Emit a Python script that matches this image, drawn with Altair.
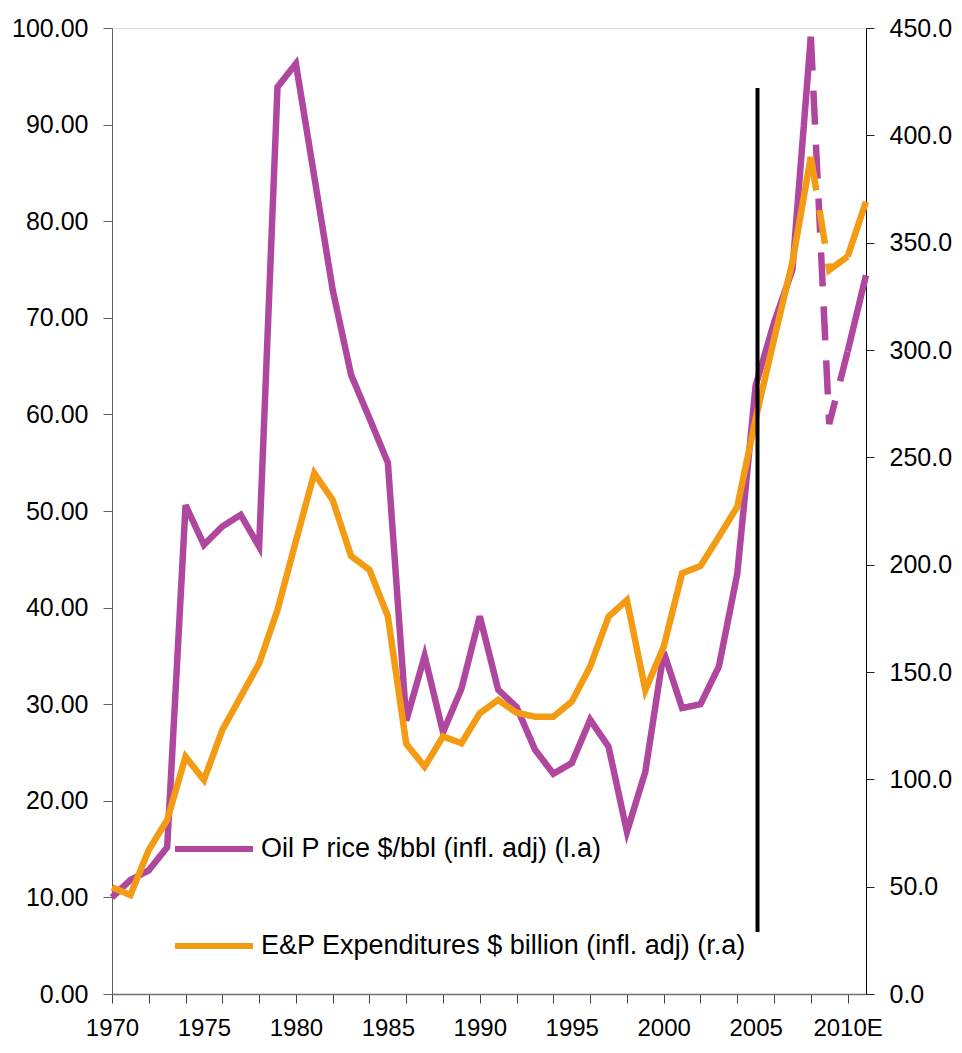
import altair as alt
import pandas as pd

# ---------------- data ----------------
years = list(range(1970, 2012))
oil_price = [10.0, 11.8, 12.8, 15.2, 50.6, 46.5, 48.4, 49.6, 46.3, 93.9,
             96.3, 84.6, 72.9, 64.1, 59.6, 55.0, 28.3, 35.0, 27.1, 31.6,
             39.1, 31.5, 29.7, 25.3, 22.8, 23.9, 28.4, 25.6, 16.8, 23.0,
             35.4, 29.6, 30.0, 33.9, 43.5, 63.0, 69.5, 75.0, 99.1, 59.0,
             66.5, 74.4]
ep_spend = [49.7, 46.1, 67.1, 81.1, 110.5, 99.7, 123.0, 138.5, 154.0, 178.9,
            211.0, 242.6, 230.1, 204.0, 197.6, 176.0, 116.5, 105.9, 120.0, 116.8,
            130.8, 137.0, 131.0, 129.2, 129.2, 136.2, 152.5, 175.8, 183.5, 141.6,
            161.8, 196.0, 199.4, 213.0, 227.0, 268.0, 305.0, 341.0, 390.0, 337.3,
            343.5, 369.1]

oil_label = "Oil P rice $/bbl (infl. adj) (l.a)"
ep_label = "E&P Expenditures $ billion (infl. adj) (r.a)"

dash_start = 2008
dash_end = 2010

x_label_years = [1970, 1975, 1980, 1985, 1990, 1995, 2000, 2005, 2010]
x_label_texts = ["1970", "1975", "1980", "1985", "1990", "1995", "2000", "2005", "2010E"]
left_ticks = [0, 10, 20, 30, 40, 50, 60, 70, 80, 90, 100]
right_ticks = [0, 50, 100, 150, 200, 250, 300, 350, 400, 450]

marker_year = [2005.1]
marker_top = [422.0]      # on right-axis scale
marker_bottom = [28.9]

purple = "#B0479E"
orange = "#F39B12"
FONT = "Liberation Sans"


def build(values, name):
    rows = []
    for y, v in zip(years, values):
        if y <= dash_start:
            rows.append(dict(year=y, value=v, seg="s1", style="solid", series=name))
        if dash_start <= y <= dash_end:
            rows.append(dict(year=y, value=v, seg="d", style="dashed", series=name))
        if y >= dash_end:
            rows.append(dict(year=y, value=v, seg="s2", style="solid", series=name))
    return pd.DataFrame(rows)


oil_df = build(oil_price, oil_label)
ep_df = build(ep_spend, ep_label)
rule_df = pd.DataFrame({"year": marker_year, "top": marker_top, "bottom": marker_bottom})

# ---------------- scales & axes ----------------
label_map = "{" + ",".join(f"'{y}':'{t}'" for y, t in zip(x_label_years, x_label_texts)) + "}"
x_scale = alt.Scale(domain=[1970, 2011], nice=False, zero=False)
x_axis = alt.Axis(
    values=years,
    labelExpr=f"({label_map})[toString(datum.value)] || ''",
    labelOverlap=False,
    labelFlush=False,
    title=None,
    grid=False,
    tickSize=9,
    tickOpacity={"condition": {"test": "datum.value % 2 === 0", "value": 1}, "value": 0},
    tickColor="#404040",
    domainColor="#707070",
    domainWidth=1.5,
    labelFontSize=24,
    labelPadding=13,
    labelColor="black",
    labelFont=FONT,
)

left_axis = alt.Axis(
    values=left_ticks, format=".2f", title=None, grid=False,
    tickSize=9, tickColor="#606060", domainColor="#606060",
    labelFontSize=25, labelPadding=15, labelColor="black", labelFont=FONT,
)
right_axis = alt.Axis(
    values=right_ticks, format=".1f", title=None, grid=False, orient="right",
    tickSize=8, tickColor="#202020", domainColor="black",
    labelFontSize=25, labelPadding=15, labelColor="black", labelFont=FONT,
)

color_scale = alt.Scale(domain=[oil_label, ep_label], range=[purple, orange])
dash_scale = alt.Scale(domain=["solid", "dashed"], range=[[1, 0], [34, 20]])

legend = alt.Legend(
    orient="none", legendX=60, legendY=779, title=None,
    symbolType="stroke", symbolSize=6084, symbolStrokeWidth=6,
    labelFontSize=27, labelFont=FONT, labelColor="black", labelLimit=900,
    labelOffset=5, rowPadding=42, padding=0, direction="vertical",
)

oil = alt.Chart(oil_df).mark_line(strokeWidth=6.5).encode(
    x=alt.X("year:Q", scale=x_scale, axis=x_axis),
    y=alt.Y("value:Q", scale=alt.Scale(domain=[0, 100], nice=False), axis=left_axis),
    color=alt.Color("series:N", scale=color_scale, legend=legend),
    strokeDash=alt.StrokeDash("style:N", scale=dash_scale, legend=None),
    detail="seg:N",
)

right_y_scale = alt.Scale(domain=[0, 450], nice=False)
ep = alt.Chart(ep_df).mark_line(strokeWidth=6.5).encode(
    x=alt.X("year:Q", scale=x_scale, axis=x_axis),
    y=alt.Y("value:Q", scale=right_y_scale, axis=right_axis),
    color=alt.Color("series:N", scale=color_scale, legend=legend),
    strokeDash=alt.StrokeDash("style:N", scale=dash_scale, legend=None),
    detail="seg:N",
)

rule = alt.Chart(rule_df).mark_rule(color="black", strokeWidth=4).encode(
    x=alt.X("year:Q", scale=x_scale, axis=x_axis),
    y=alt.Y("top:Q", scale=right_y_scale, axis=right_axis),
    y2="bottom:Q",
)

chart = (
    alt.layer(oil, alt.layer(ep, rule))
    .resolve_scale(y="independent")
    .properties(
        width=754, height=966,
        autosize=alt.AutoSizeParams(type="none"),
        padding={"left": 104, "top": 20, "right": 88, "bottom": 45},
        background="white",
    )
    .configure_view(stroke=None)
    .configure(font=FONT)
)

chart.save("out.html", embed_options={"renderer": "svg", "actions": False})
